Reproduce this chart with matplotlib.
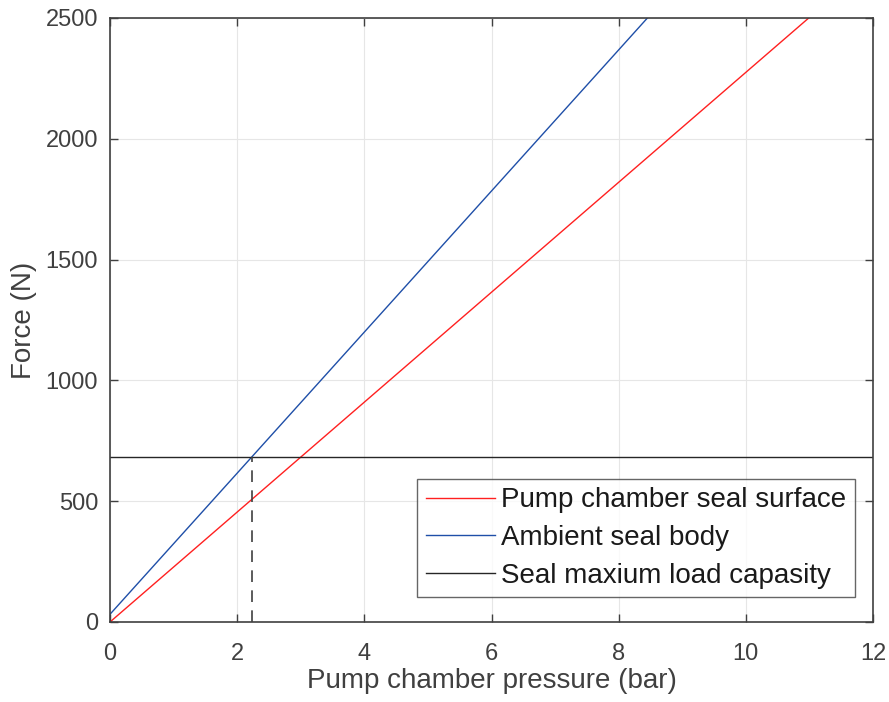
import matplotlib
matplotlib.use("Agg")
import matplotlib.pyplot as plt
import numpy as np

plt.rcParams['font.family'] = ['Liberation Sans', 'DejaVu Sans']

pressure = [0, 12]
seal_surface = [0, 2730]
seal_body = [32, 3536]
max_load = 682
crossing_pressure = 2.24

xticks = [0, 2, 4, 6, 8, 10, 12]
yticks = [0, 500, 1000, 1500, 2000, 2500]

fig = plt.figure(figsize=(8.89, 7.02), dpi=100)
ax = fig.add_axes([110/889, 1-622/702, (873-110)/889, (622-18)/702])

ax.plot(pressure, seal_surface, color='#ff2020', lw=1.0, label='Pump chamber seal surface')
ax.plot(pressure, seal_body, color='#1f4fa8', lw=1.0, label='Ambient seal body')
ax.axhline(max_load, color='#262626', lw=1.0, label='Seal maxium load capasity')
ax.plot([crossing_pressure, crossing_pressure], [0, max_load], color='#404040', lw=1.2,
        dashes=(7, 5))

ax.set_xlim(0, 12)
ax.set_ylim(0, 2500)
ax.set_xticks(xticks)
ax.set_yticks(yticks)
ax.grid(True, color='#e6e6e6', lw=0.8)
ax.set_axisbelow(True)
ax.tick_params(direction='in', length=6, width=1, colors='#404040', labelsize=17,
               top=True, right=True)
ax.tick_params(axis='x', pad=15)
ax.tick_params(axis='y', pad=8.5)
for s in ax.spines.values():
    s.set_color('#404040')
    s.set_linewidth(1.2)

ax.set_xlabel('Pump chamber pressure (bar)', fontsize=20, color='#404040', labelpad=2)
ax.set_ylabel('Force (N)', fontsize=20, color='#404040', labelpad=6)

leg = ax.legend(loc='lower right', bbox_to_anchor=(0.976, 0.0414), borderaxespad=0,
                fontsize=20, frameon=True, fancybox=False, handlelength=2.5,
                handletextpad=0.22, borderpad=0.3, labelspacing=0.42, edgecolor='#404040')
leg.get_frame().set_linewidth(1.0)
for t in leg.get_texts():
    t.set_color('#1a1a1a')

fig.savefig('out.png', dpi=100)
